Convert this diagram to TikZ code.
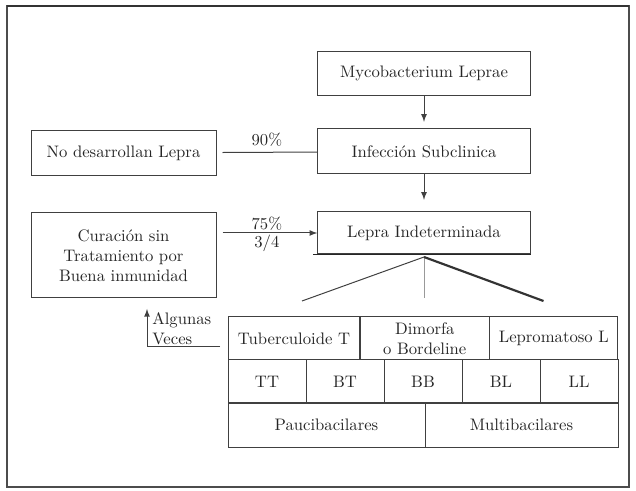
\documentclass[tikz,border=0pt]{standalone}
\usepackage{tikz}
\usetikzlibrary{arrows}

\tikzset{
  box/.style={draw=black!75, line width=0.6pt, minimum width=127.5pt, minimum height=26.5pt, inner sep=1pt, align=center, text=black!85},
  sidebox/.style={box, minimum width=111pt},
  cell/.style={draw=black!75, line width=0.6pt, minimum height=25.8pt, inner sep=0pt, align=center, text=black!85},
  link/.style={draw=black!75, line width=0.6pt}
}

\begin{document}
\begin{tikzpicture}[x=0.6pt,y=-0.6pt]
  \useasboundingbox (0,0) rectangle (636,491);
  \draw[black!70, line width=0.9pt] (7,487) -- (7,6) -- (629,6) -- (629,487) -- cycle;
  \draw[black!80, line width=1.6pt] (7,6) -- (629,6);

  \node[box] (myco) at (424,73.5) {Mycobacterium Leprae};
  \node[box, minimum height=27pt] (infec) at (424,151.5) {Infección Subclinica};
  \node[box, minimum height=25.2pt] (lepra) at (424,233) {Lepra Indeterminada};
  \node[sidebox] (nodes) at (123.5,153) {No desarrollan Lepra};
  \node[sidebox, minimum height=51pt] (cura) at (123.5,255.5) {Curación sin\\Tratamiento por\\Buena inmunidad};

  \draw[link, -latex, shorten >=4pt] (myco) -- (infec);
  \draw[link, -latex, shorten >=7pt] (infec) -- (lepra);
  \draw[link, shorten <=3.6pt] (nodes) -- node[above, text=black!85] {90\%} (infec);
  \draw[link, shorten <=3.6pt, -latex] (cura.east |- lepra) -- node[above, text=black!85, inner sep=1pt] {75\%}
    node[below, text=black!85, inner sep=1pt] {3/4} (lepra);
  \draw[black!85, line width=1pt] ([xshift=-2.5pt]lepra.south west) -- (lepra.south east);

  \node[cell, minimum width=79.2pt] (tub) at (294,338.5) {Tuberculoide T};
  \node[cell, minimum width=77.8pt] (dim) at (424.8,338.5) {Dimorfa\\o Bordeline};
  \node[cell, minimum width=77pt] (lep) at (553.8,338.5) {Lepromatoso L};
  \node[cell, minimum width=46.8pt] (tt) at (267,381.5) {TT};
  \node[cell, minimum width=46.8pt] (bt) at (345,381.5) {BT};
  \node[cell, minimum width=46.8pt] (bb) at (423,381.5) {BB};
  \node[cell, minimum width=46.8pt] (bl) at (501,381.5) {BL};
  \node[cell, minimum width=46.8pt] (ll) at (579,381.5) {LL};
  \node[cell, minimum width=118.2pt, minimum height=26.4pt] (pauci) at (326.5,425) {Paucibacilares};
  \node[cell, minimum width=115.8pt, minimum height=26.4pt] (multi) at (521.5,425) {Multibacilares};

  \coordinate (apex) at (424,257);
  \coordinate (tleft) at (302,301);
  \coordinate (tmid) at (424,298);
  \coordinate (tright) at (543.5,301);
  \draw[link] (apex) -- (tleft);
  \draw[black!40, line width=0.4pt] (apex) -- (tmid);
  \draw[black!80, line width=1.3pt] (apex) -- (tright);

  \coordinate (vstart) at (220,347);
  \coordinate (vcorner) at (147,347);
  \coordinate (vend) at (147,309);
  \draw[link, -latex] (vstart) -- (vcorner) -- (vend);
  \node[anchor=west, align=left, text=black!85, inner sep=0pt] (algunas) at (152,329) {Algunas\\Veces};
\end{tikzpicture}
\end{document}
